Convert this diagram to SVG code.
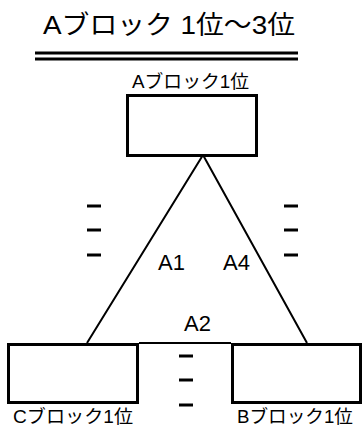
<svg xmlns="http://www.w3.org/2000/svg" width="362" height="427" viewBox="0 0 362 427">
<style>
text{font-family:"Liberation Sans","Noto Sans CJK JP",sans-serif;fill:#000}
.box{fill:#fff;stroke:#000;stroke-width:3}
.ln{stroke:#000;stroke-width:2;fill:none}
.dash{stroke:#000;stroke-width:3}
.lbl{font-size:18px}
.big{font-size:22px}
</style>
<rect width="362" height="427" fill="#fff"/>
<g id="title">
<text x="43" y="34" font-size="26" textLength="252" lengthAdjust="spacingAndGlyphs">Aブロック 1位～3位</text>
<line x1="35" y1="53" x2="298" y2="53" class="dash"/>
<line x1="35" y1="59" x2="298" y2="59" class="dash"/>
</g>
<g id="connectors">
<polyline class="ln" points="87,343 203,155 307,343"/>
<line class="ln" x1="139" y1="343" x2="231" y2="343"/>
</g>
<g id="nodeA">
<rect class="box" x="127.5" y="95.5" width="129" height="60"/>
<text class="lbl" x="132" y="88" textLength="117" lengthAdjust="spacingAndGlyphs">Aブロック1位</text>
</g>
<g id="nodeC">
<rect class="box" x="8.5" y="344.5" width="129" height="58"/>
<text class="lbl" x="13" y="423" textLength="120" lengthAdjust="spacingAndGlyphs">Cブロック1位</text>
</g>
<g id="nodeB">
<rect class="box" x="232.5" y="344.5" width="128" height="58"/>
<text class="lbl" x="237" y="423" textLength="116" lengthAdjust="spacingAndGlyphs">Bブロック1位</text>
</g>
<g id="labels">
<text class="big" x="158" y="270">A1</text>
<text class="big" x="223" y="270">A4</text>
<text class="big" x="184" y="331">A2</text>
</g>
<g id="dashes" class="dash">
<line x1="87" y1="206" x2="101" y2="206"/>
<line x1="87" y1="230" x2="101" y2="230"/>
<line x1="87" y1="255" x2="101" y2="255"/>
<line x1="284" y1="206" x2="298" y2="206"/>
<line x1="284" y1="230" x2="298" y2="230"/>
<line x1="284" y1="255" x2="298" y2="255"/>
<line x1="179" y1="356" x2="193" y2="356"/>
<line x1="179" y1="380" x2="193" y2="380"/>
<line x1="179" y1="405" x2="193" y2="405"/>
</g>
</svg>
